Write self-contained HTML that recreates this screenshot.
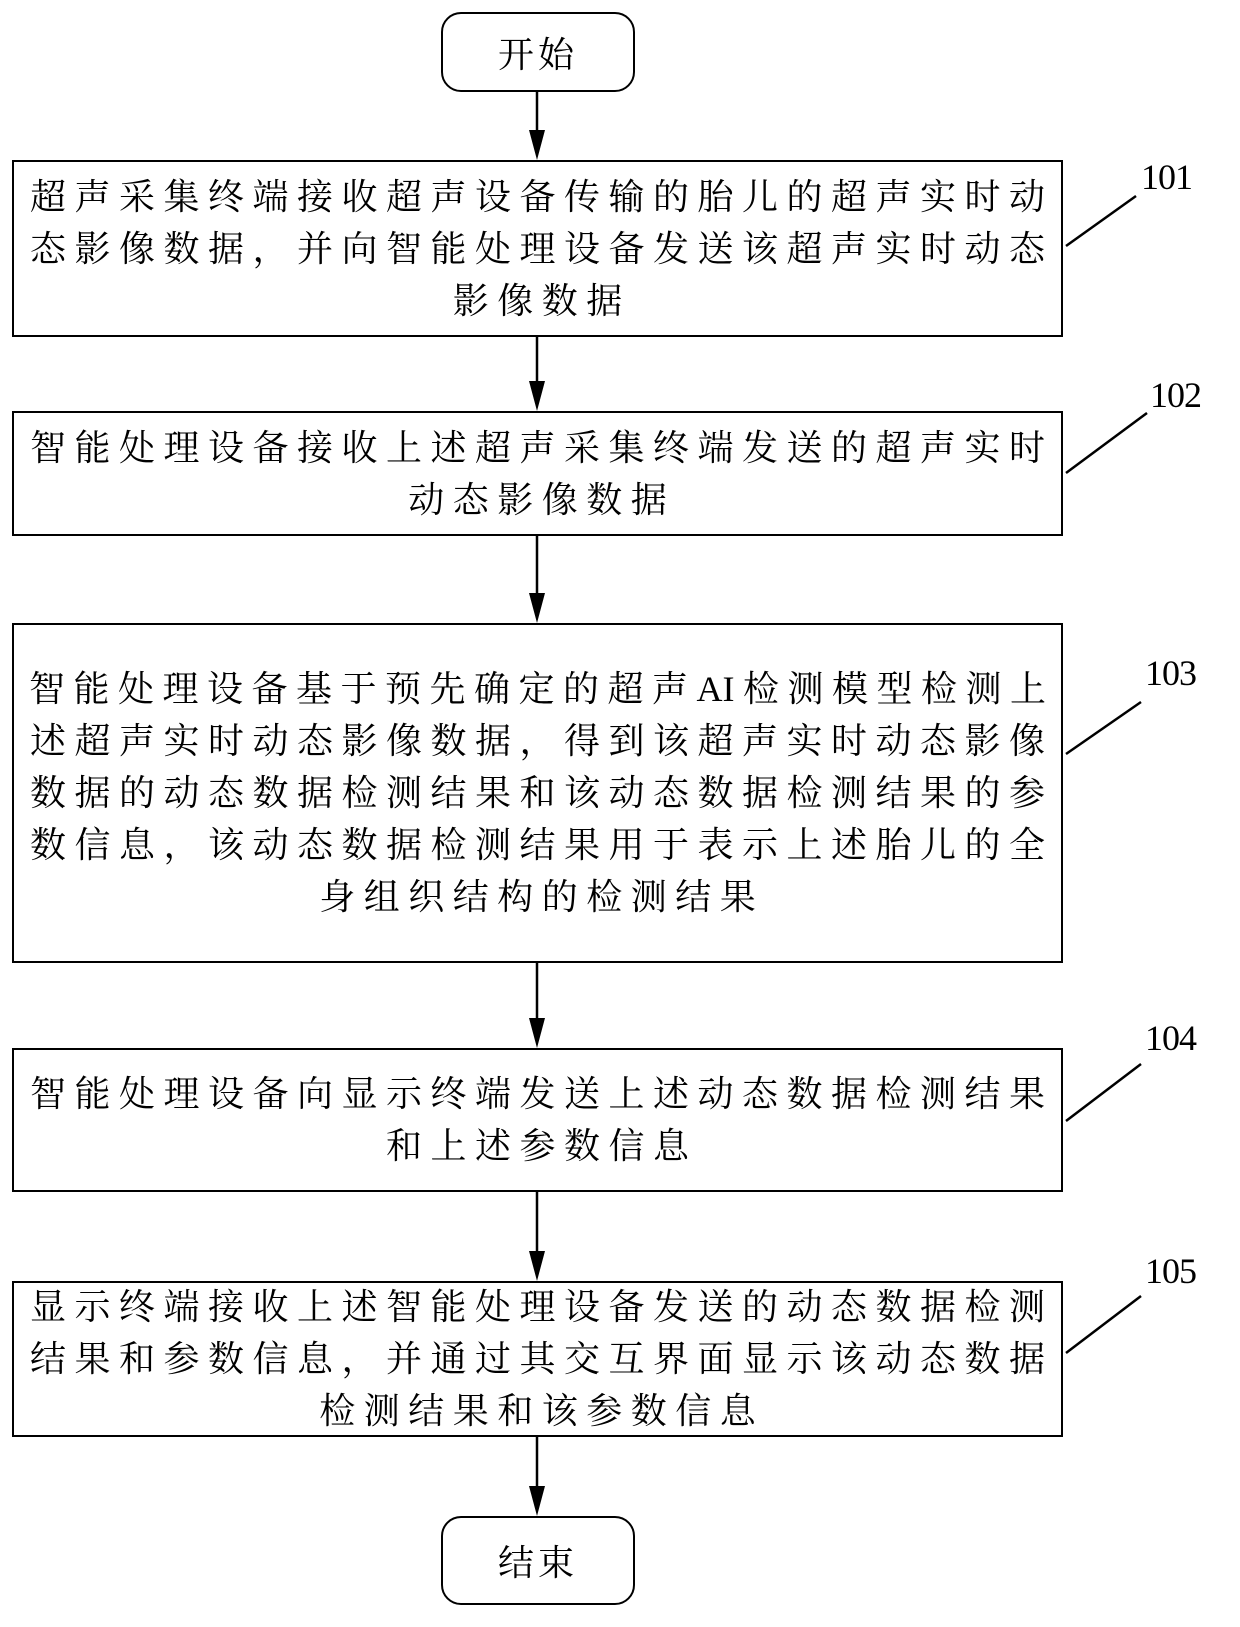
<!DOCTYPE html>
<html><head><meta charset="utf-8"><style>
html,body{margin:0;padding:0;background:#fff;}
body{width:1240px;height:1627px;position:relative;overflow:hidden;font-family:"Liberation Serif","Noto Serif CJK SC",serif;color:#000;}
.box{position:absolute;left:12px;width:1051px;border:2.5px solid #000;background:#fff;display:flex;flex-direction:column;justify-content:center;align-items:center;box-sizing:border-box;}
.l{font-size:36px;line-height:52px;letter-spacing:8.5px;white-space:nowrap;margin-right:-8.5px;}
.ai{letter-spacing:0;margin-right:8.5px;}
.term{position:absolute;left:441px;width:194px;border:2.5px solid #000;border-radius:20px;box-sizing:border-box;display:flex;align-items:center;justify-content:center;font-size:36px;letter-spacing:4px;background:#fff;}
.num{position:absolute;font-size:36px;letter-spacing:-1px;}
svg{position:absolute;left:0;top:0;}
</style></head><body>
<svg width="1240" height="1627">
<g stroke="#000" stroke-width="2.5">
<line x1="537" y1="91" x2="537" y2="140"/>
<line x1="537" y1="336" x2="537" y2="392"/>
<line x1="537" y1="535" x2="537" y2="604"/>
<line x1="537" y1="962" x2="537" y2="1030"/>
<line x1="537" y1="1191" x2="537" y2="1262"/>
<line x1="537" y1="1436" x2="537" y2="1498"/>
<line x1="1066" y1="246" x2="1136" y2="196"/>
<line x1="1066" y1="473" x2="1147" y2="413"/>
<line x1="1066" y1="754" x2="1141" y2="702"/>
<line x1="1066" y1="1121" x2="1141" y2="1064"/>
<line x1="1066" y1="1353" x2="1141" y2="1296"/>
</g>
<g fill="#000">
<polygon points="529,130 545,130 537,160"/>
<polygon points="529,381 545,381 537,411"/>
<polygon points="529,593 545,593 537,623"/>
<polygon points="529,1018 545,1018 537,1048"/>
<polygon points="529,1251 545,1251 537,1281"/>
<polygon points="529,1486 545,1486 537,1516"/>
</g>
</svg>
<div class="term" style="top:12px;height:80px;">开始</div>
<div class="term" style="top:1516px;height:89px;">结束</div>
<div class="box" style="top:160px;height:177px;">
<div class="l">超声采集终端接收超声设备传输的胎儿的超声实时动</div>
<div class="l">态影像数据，并向智能处理设备发送该超声实时动态</div>
<div class="l">影像数据</div>
</div>
<div class="box" style="top:411px;height:125px;">
<div class="l">智能处理设备接收上述超声采集终端发送的超声实时</div>
<div class="l">动态影像数据</div>
</div>
<div class="box" style="top:623px;height:340px;">
<div class="l">智能处理设备基于预先确定的超声<span class="ai">AI</span>检测模型检测上</div>
<div class="l">述超声实时动态影像数据，得到该超声实时动态影像</div>
<div class="l">数据的动态数据检测结果和该动态数据检测结果的参</div>
<div class="l">数信息，该动态数据检测结果用于表示上述胎儿的全</div>
<div class="l">身组织结构的检测结果</div>
</div>
<div class="box" style="top:1048px;height:144px;">
<div class="l">智能处理设备向显示终端发送上述动态数据检测结果</div>
<div class="l">和上述参数信息</div>
</div>
<div class="box" style="top:1281px;height:156px;">
<div class="l">显示终端接收上述智能处理设备发送的动态数据检测</div>
<div class="l">结果和参数信息，并通过其交互界面显示该动态数据</div>
<div class="l">检测结果和该参数信息</div>
</div>
<div class="num" style="left:1141px;top:156px;">101</div>
<div class="num" style="left:1150px;top:374px;">102</div>
<div class="num" style="left:1145px;top:652px;">103</div>
<div class="num" style="left:1145px;top:1017px;">104</div>
<div class="num" style="left:1145px;top:1250px;">105</div>
</body></html>
